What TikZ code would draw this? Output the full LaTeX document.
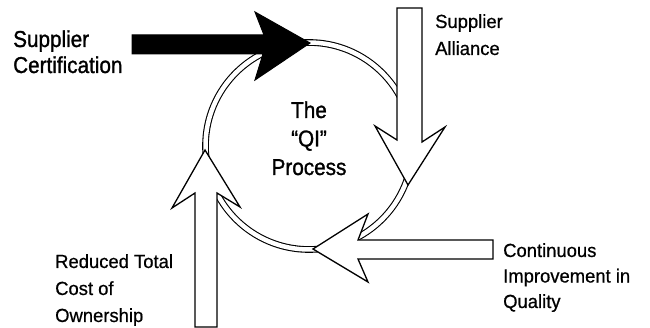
\documentclass[tikz,border=0pt]{standalone}
\usepackage{fontspec}
\setmainfont{Liberation Sans}[FakeStretch=0.9, FakeBold=1.2]
\newfontfamily\plainsans{Liberation Sans}[FakeStretch=0.97, FakeBold=0.6]
\begin{document}
\begin{tikzpicture}[x=1pt,y=-1pt,
  bigtext/.style={font=\fontsize{23}{26}\selectfont, inner sep=0pt, align=left, anchor=base west},
  centertext/.style={font=\fontsize{23}{28.5}\selectfont, inner sep=0pt, align=center, anchor=base},
  smalltext/.style={font=\plainsans\fontsize{19}{26}\selectfont, inner sep=0pt, align=left, anchor=base west},
  ring/.style={line width=1.1pt, double=white, double distance=4.5pt},
  hollowarrow/.style={draw=black, fill=white, line width=1.3pt, line join=miter},
  solidarrow/.style={draw=black, fill=black, line width=1pt, line join=miter}]
\useasboundingbox (0,0) rectangle (650,328);
% the QI process ring
\coordinate (c) at (309,146);
\draw[ring] (c) circle[radius=103.5pt];
% Supplier Certification (solid black arrow)
\draw[solidarrow] (132,35) -- (264,35) -- (255,12) -- (310,43) -- (255,80) -- (263,54) -- (132,54) -- cycle;
% Supplier Alliance (down arrow)
\draw[hollowarrow] (397,8) -- (422,8) -- (422,142) -- (445,127) -- (408,185) -- (375,126) -- (397,140) -- cycle;
% Continuous Improvement (left arrow)
\draw[hollowarrow] (493,240) -- (493,259) -- (358,259) -- (368,282) -- (313,249) -- (368,214) -- (358,240) -- cycle;
% Reduced Total Cost (up arrow)
\draw[hollowarrow] (195,327) -- (217,327) -- (217,193) -- (240,207) -- (205,150) -- (172,208) -- (195,193) -- cycle;
% texts (base anchor = baseline of last line)
\node[bigtext] (cert) at (13,73) {Supplier\\Certification};
\node[centertext] (qi) at (309,175) {The\\“QI”\\Process};
\node[smalltext, font=\plainsans\fontsize{19}{27}\selectfont] (alli) at (435,55) {Supplier\\Alliance};
\node[smalltext, font=\plainsans\fontsize{19}{25.5}\selectfont] (cont) at (503,308) {Continuous\\Improvement in\\Quality};
\node[smalltext, font=\plainsans\fontsize{19}{27}\selectfont] (cost) at (55,322) {Reduced Total\\Cost of\\Ownership};
\end{tikzpicture}
\end{document}
